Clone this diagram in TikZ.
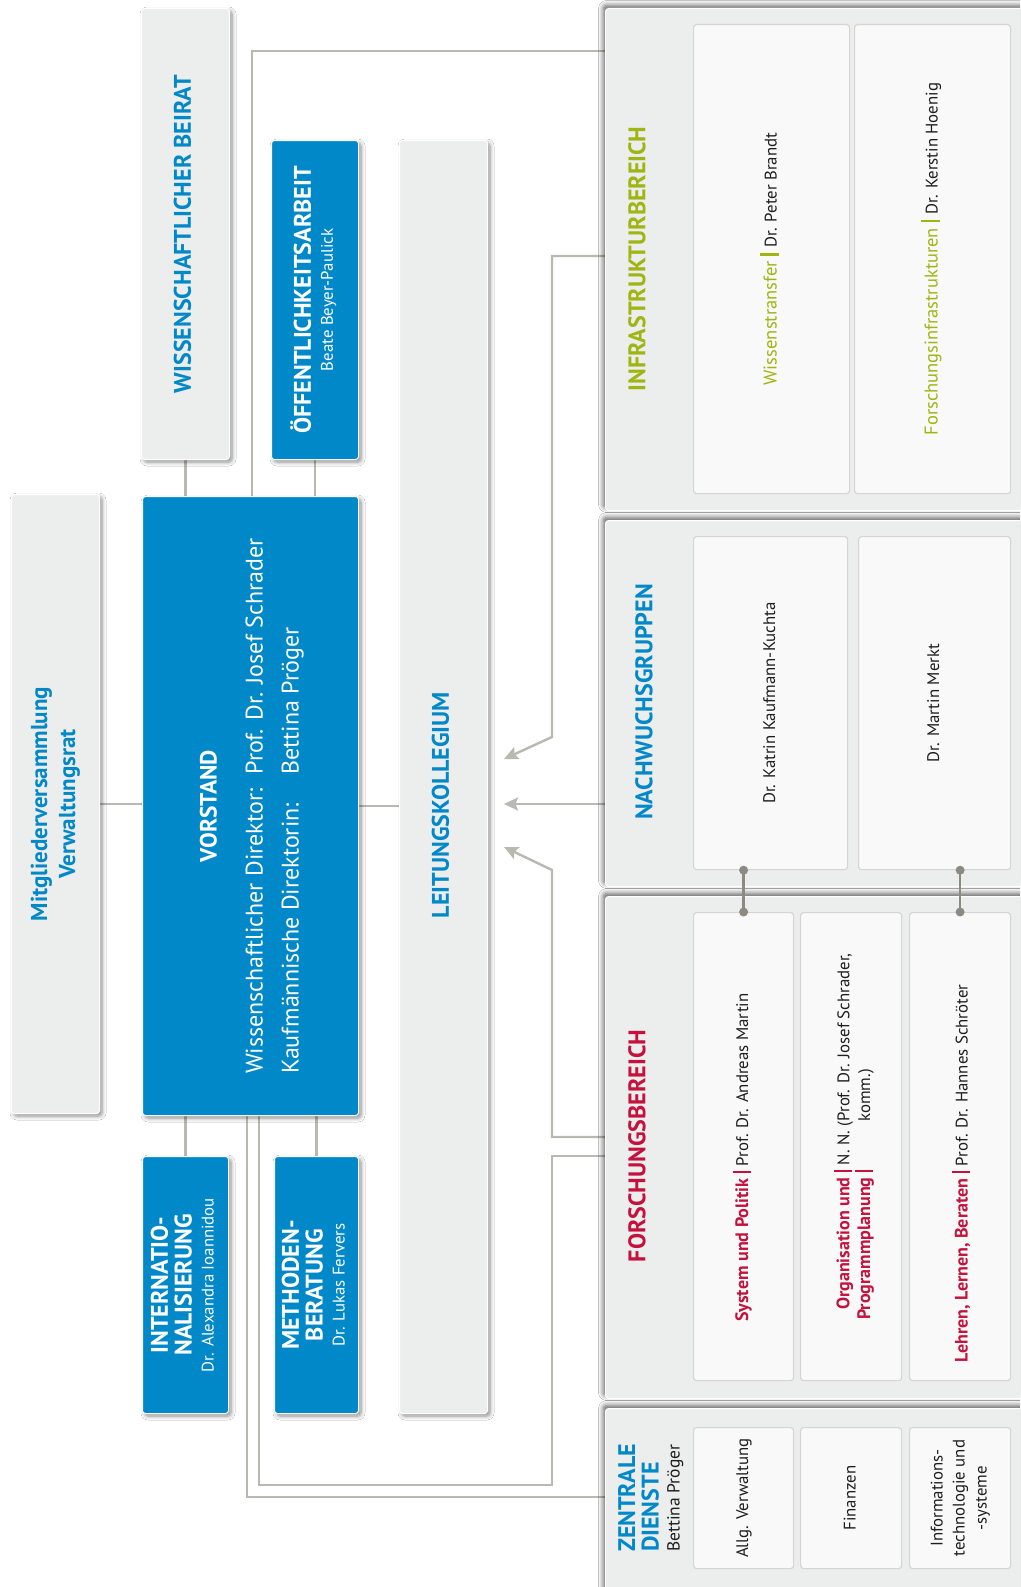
\documentclass[tikz,border=0pt]{standalone}
\usepackage{fontspec}
\setmainfont{PT Sans}
\usetikzlibrary{arrows.meta,backgrounds,shadows.blur}

\definecolor{dieblue}{HTML}{0088C8}
\definecolor{boxgrey}{HTML}{ECEDED}
\definecolor{subfill}{HTML}{F9F9F9}
\definecolor{subline}{HTML}{D5D5D2}
\definecolor{linegrey}{HTML}{B9B8B1}
\definecolor{dotgrey}{HTML}{8D8B81}
\definecolor{infragreen}{HTML}{A0B511}
\definecolor{forschred}{HTML}{C4123D}
\definecolor{textblack}{HTML}{1E1E1E}

\newcommand{\rottext}[2][22]{\rotatebox{90}{\fontsize{10}{#1}\selectfont%
    \begin{tabular}{@{}c@{}}#2\end{tabular}}}
\newcommand{\titlesize}{\fontsize{24}{22}\selectfont\bfseries}
\newcommand{\namesize}{\fontsize{16.8}{22}\selectfont}
\newcommand{\areasize}{\fontsize{18.5}{22}\selectfont}
\newcommand{\redsize}{\fontsize{18}{22}\selectfont\bfseries}
\newcommand{\sepbar}[1]{\hspace{.3em}{\color{#1}\rule[-.15em]{.14em}{1.05em}}\hspace{.3em}}

\tikzset{
  orgbox/.style={anchor=north west, draw=white, line width=1pt, rounded corners=3pt,
    inner sep=0pt, blur shadow={shadow xshift=2.5pt, shadow yshift=-2.5pt,
    shadow blur radius=4pt, shadow blur steps=6, shadow opacity=45}},
  greybox/.style={orgbox, fill=boxgrey, text=dieblue},
  bluebox/.style={orgbox, fill=dieblue, text=white},
  panel/.style={anchor=north west, draw=white, line width=1pt, rounded corners=3pt,
    inner sep=0pt, fill=boxgrey, blur shadow={shadow xshift=-2pt, shadow yshift=3pt,
    shadow blur radius=5pt, shadow blur steps=8, shadow opacity=65}},
  subbox/.style={anchor=north west, draw=subline, line width=1.2pt, fill=subfill,
    rounded corners=3pt, inner sep=0pt, text=textblack},
  conn/.style={draw=linegrey, line width=2.4pt},
  arr/.style={conn, -{Stealth[length=14pt,width=13pt,inset=2.5pt]}},
  dotline/.style={draw=dotgrey, line width=2.4pt},
}

\begin{document}
\begin{tikzpicture}[x=1pt,y=-1pt]
    \useasboundingbox (0,0) rectangle (1020,1587);
    \clip (0,0) rectangle (1020,1587);

    \node[greybox, minimum width=88pt, minimum height=619pt] (mv) at (11,494)
      {\rottext[28]{\fontsize{23}{28}\selectfont\bfseries Mitgliederversammlung\\
        \fontsize{23}{28}\selectfont\bfseries Verwaltungsrat}};
    \node[greybox, minimum width=88pt, minimum height=451pt] (beirat) at (141,8)
      {\rottext{\titlesize WISSENSCHAFTLICHER BEIRAT}};
    \node[bluebox, minimum width=87pt, minimum height=319pt] (oeff) at (271,140)
      {\rottext{\titlesize ÖFFENTLICHKEITSARBEIT\\ \namesize Beate Beyer-Paulick}};
    \node[bluebox, minimum width=216pt, minimum height=619pt] (vorstand) at (142,496)
      {\rottext[36]{\fontsize{23.5}{36}\selectfont\bfseries VORSTAND\\[10pt]
        \fontsize{24}{36}\selectfont
        \begin{tabular}[t]{@{}l@{\hspace{14pt}}l@{}}
          Wissenschaftlicher Direktor: & Prof. Dr. Josef Schrader\\
          Kaufmännische Direktorin: & Bettina Pröger
        \end{tabular}}};
    \node[bluebox, minimum width=86pt, minimum height=257pt] (intern) at (142,1156)
      {\rottext{\titlesize INTERNATIO-\\ \titlesize NALISIERUNG\\
        \namesize Dr. Alexandra Ioannidou}};
    \node[bluebox, minimum width=84pt, minimum height=257pt] (methoden) at (274,1156)
      {\rottext{\titlesize METHODEN-\\ \titlesize BERATUNG\\ \namesize Dr. Lukas Fervers}};
    \node[greybox, minimum width=88pt, minimum height=1273pt] (lk) at (399,140) {};
    \node[text=dieblue] (lktext) at ([yshift=-28pt]lk.center)
      {\rottext{\titlesize LEITUNGSKOLLEGIUM}};

    \node[panel, minimum width=425pt, minimum height=502pt] (infra) at (605,8) {};
    \node[panel, minimum width=425pt, minimum height=366pt] (nach) at (605,520) {};
    \node[panel, minimum width=425pt, minimum height=502pt] (forsch) at (605,896) {};
    \node[panel, minimum width=425pt, minimum height=200pt] (zd) at (605,1408) {};

    \node[text=infragreen] (infratitle) at (640,259)
      {\rottext{\titlesize INFRASTRUKTURBEREICH}};
    \node[text=dieblue] (nachtitle) at (647,702)
      {\rottext{\titlesize NACHWUCHSGRUPPEN}};
    \node[text=forschred] (forschtitle) at (640,1146)
      {\rottext{\titlesize FORSCHUNGSBEREICH}};
    \node[text=textblack] (zdtitle) at (652,1498)
      {\rotatebox{90}{\fontsize{10}{21}\selectfont\begin{tabular}{@{}l@{}}
        \titlesize\color{dieblue}ZENTRALE\\ \titlesize\color{dieblue}DIENSTE\\
        \fontsize{17.5}{21}\selectfont Bettina Pröger\end{tabular}}};

    \node[subbox, minimum width=156pt, minimum height=469pt] (wt) at (693,24)
      {\rottext{\areasize\color{infragreen}Wissenstransfer\sepbar{infragreen}%
        \namesize\color{textblack}Dr. Peter Brandt}};
    \node[subbox, minimum width=156pt, minimum height=469pt] (fi) at (854,24)
      {\rottext{\areasize\color{infragreen}Forschungsinfrastrukturen\sepbar{infragreen}%
        \namesize\color{textblack}Dr. Kerstin Hoenig}};

    \node[subbox, minimum width=154pt, minimum height=333pt] (kuchta) at (693,536)
      {\rottext{\namesize Dr. Katrin Kaufmann-Kuchta}};
    \node[subbox, minimum width=152pt, minimum height=333pt] (merkt) at (858,536)
      {\rottext{\namesize Dr. Martin Merkt}};

    \node[subbox, minimum width=100pt, minimum height=468pt] (sysp) at (693,912) {};
    \node[subbox, minimum width=101pt, minimum height=468pt] (orga) at (800,912) {};
    \node[subbox, minimum width=101pt, minimum height=468pt] (lehren) at (909,912) {};
    \node[text=textblack] (sysptext) at ([yshift=-11pt]sysp.center)
      {\rottext{\namesize{\redsize\color{forschred}System und Politik}\sepbar{forschred}%
        Prof. Dr. Andreas Martin}};
    \node[text=textblack] (orgatext) at ([xshift=4pt,yshift=10pt]orga.center)
      {\rotatebox{90}{\fontsize{16.8}{19}\selectfont\begin{tabular}{@{}r@{}l@{}}
        {\redsize\color{forschred}Organisation und}\sepbar{forschred} &
          N. N. (Prof. Dr. Josef Schrader,\\
        {\redsize\color{forschred}Programmplanung}\sepbar{forschred} &
          \phantom{N. N. (}komm.)
      \end{tabular}}};
    \node[text=textblack] (lehrentext) at ([xshift=3pt,yshift=-27pt]lehren.center)
      {\rottext{\namesize{\redsize\color{forschred}Lehren, Lernen, Beraten}\sepbar{forschred}%
        Prof. Dr. Hannes Schröter}};

    \node[subbox, minimum width=100pt, minimum height=141pt] (verw) at (693,1427)
      {\rottext{\namesize Allg. Verwaltung}};
    \node[subbox, minimum width=101pt, minimum height=141pt] (fin) at (800,1427)
      {\rottext{\namesize Finanzen}};
    \node[subbox, minimum width=101pt, minimum height=141pt] (it) at (909,1427)
      {\rottext{\namesize Informations-\\ \namesize technologie und\\ \namesize -systeme}};

    \draw[dotline] (sysp.north) -- (sysp.north |- kuchta.south);
    \draw[dotline] (lehren.north) -- (lehren.north |- merkt.south);
    \fill[dotgrey] (sysp.north) circle (4.5pt) (sysp.north |- kuchta.south) circle (4.5pt);
    \fill[dotgrey] (lehren.north) circle (4.5pt) (lehren.north |- merkt.south) circle (4.5pt);

    \begin{scope}[on background layer]
      \fill[white] (0,0) rectangle (1020,1587);
      \coordinate (lkin) at ([xshift=16pt]lk.east);
      \draw[conn] (mv.east) -- (mv.east -| vorstand.west);
      \draw[conn] (beirat.south) -- (beirat.south |- vorstand.north);
      \draw[conn] (oeff.south) -- (oeff.south |- vorstand.north);
      \draw[conn] (intern.north) -- (intern.north |- vorstand.south);
      \draw[conn] (methoden.north) -- (methoden.north |- vorstand.south);
      \draw[conn] (vorstand.east) -- (vorstand.east -| lk.west);
      \draw[conn] (vorstand.north -| 252,0) |- (infra.west |- 0,51);
      \draw[conn] (vorstand.south -| 247,0) |- (zd.west |- 0,1497);
      \draw[conn] (vorstand.south -| 259,0) -- (259,1485) -| (552,1156)
        -- (forsch.west |- 0,1156);
      \draw[arr] (infra.west |- 0,256) -| (552,737) -- (lkin |- 0,759);
      \draw[arr] (nach.west |- 0,804) -- (lkin |- 0,804);
      \draw[arr] (forsch.west |- 0,1137) -| (552,870) -- (lkin |- 0,847);
    \end{scope}
\end{tikzpicture}
\end{document}
